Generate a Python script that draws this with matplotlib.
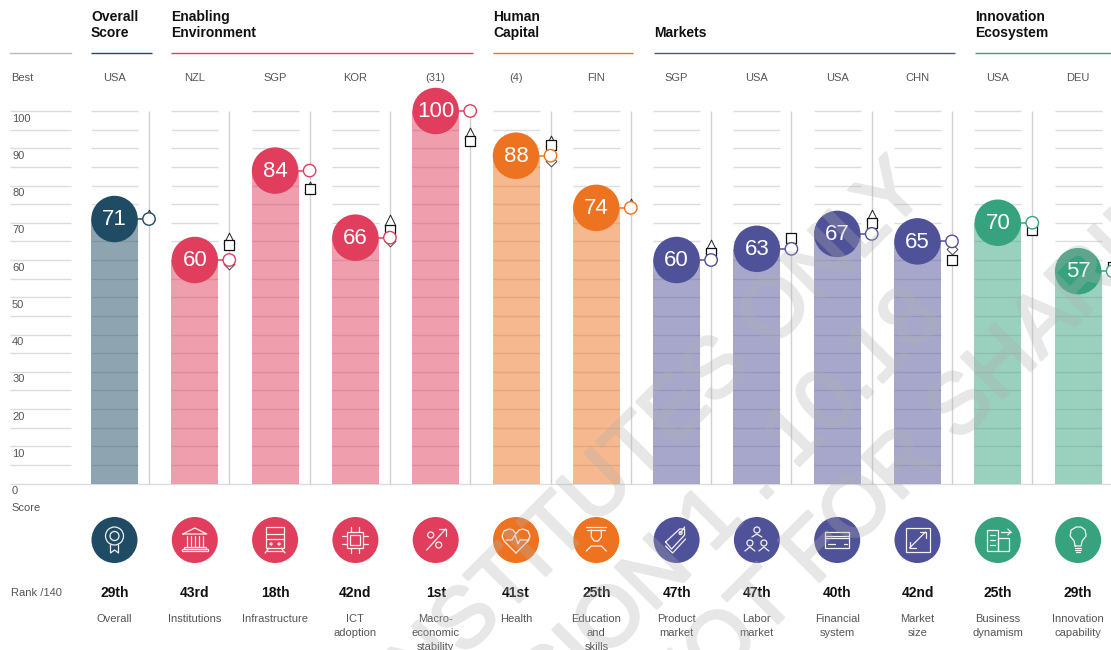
#!/usr/bin/python3
import numpy as np
import matplotlib
matplotlib.use('Agg')
import matplotlib.pyplot as plt
import matplotlib.patheffects as pe
from matplotlib.patches import Circle, Rectangle

plt.rcParams['font.family'] = ['Liberation Sans', 'DejaVu Sans']

#-#-#-#-#-#-#-#-#-#-#-#-#-#-#-#-#-#-#-#-#-#-#-#-#-#-#-#-#-#-#-#
# The data
pillars = ['Overall', 'Institutions', 'Infrastructure', 'ICT\nadoption',
           'Macro-\neconomic\nstability', 'Health', 'Education\nand\nskills',
           'Product\nmarket', 'Labor\nmarket', 'Financial\nsystem',
           'Market\nsize', 'Business\ndynamism', 'Innovation\ncapability']
best = ['USA', 'NZL', 'SGP', 'KOR', '(31)', '(4)', 'FIN', 'SGP', 'USA', 'USA',
        'CHN', 'USA', 'DEU']
ranks = ['29th', '43rd', '18th', '42nd', '1st', '41st', '25th', '47th', '47th',
         '40th', '42nd', '25th', '29th']
scores = [71, 60, 84, 66, 100, 88, 74, 60, 63, 67, 65, 70, 57]
squares = [np.nan, 64, 79, 68, 92, 91, np.nan, 62, 66, 70, 60, 68, 58]
triangles = [72, 66, 79.7, 70.7, 94, 92, 75, 64, np.nan, 72, np.nan, np.nan, np.nan]
diamonds = [np.nan, 59, np.nan, 65, np.nan, 86.5, np.nan, 62, np.nan, np.nan, 63, np.nan, np.nan]
groups = [0, 1, 1, 1, 1, 2, 2, 3, 3, 3, 3, 4, 4]

headers = ['Overall\nScore', 'Enabling\nEnvironment', 'Human\nCapital', 'Markets', 'Innovation\nEcosystem']
headerSpan = [(91, 152), (171, 473), (493, 633), (654, 955), (975, 1111)]
dark = ['#1f4b65', '#e03e5c', '#ee7320', '#4f5199', '#37a37e']
gridVals = np.arange(5, 101, 5)
tickVals = np.arange(0, 101, 10)

#-#-#-#-#-#-#-#-#-#-#-#-#-#-#-#-#-#-#-#-#-#-#-#-#-#-#-#-#-#-#-#
# Axes set up so the scale lands where the picture has it
W, H = 1111, 650
x0, dx = 114.5, 80.3
y0, dy = 483.5, 3.725
fig = plt.figure(figsize=(W/100, H/100), dpi=100)
ax = fig.add_axes([0, 0, 1, 1], zorder=1)
ax.set_xlim(-x0/dx, (W-x0)/dx)
ax.set_ylim((y0-H)/dy, y0/dy)
ax.axis('off')

ov = fig.add_axes([0, 0, 1, 1], zorder=2)
ov.set_xlim(0, W)
ov.set_ylim(H, 0)
ov.axis('off')
ov.patch.set_alpha(0)

xs = np.arange(len(scores))
colors = [dark[g] for g in groups]
half = 23.5/dx
side = 34.5/dx
textC = '#555555'
lineC = '#dcdcdc'

#-#-#-#-#-#-#-#-#-#-#-#-#-#-#-#-#-#-#-#-#-#-#-#-#-#-#-#-#-#-#-#
# Grid, bars and markers
leftA, leftB = (10-x0)/dx, (71-x0)/dx
ax.hlines(gridVals, leftA, leftB, color=lineC, lw=1, zorder=1)
ax.hlines(0, leftA, (W-x0)/dx, color=lineC, lw=1, zorder=1)
for i in xs:
    ax.hlines(gridVals, i-half, i+half, color=lineC, lw=1, zorder=1)
    ax.vlines(i+side, 0, 100, color='#d0d0d0', lw=1, zorder=1)
ax.bar(xs, scores, width=2*half, color=colors, alpha=0.5, lw=0, zorder=2)

ax.scatter(xs+side, diamonds, s=30, marker='D', facecolor='white', edgecolor='#444444', lw=0.7, zorder=4)
ax.scatter(xs+side, triangles, s=60, marker='^', facecolor='white', edgecolor='#222222', lw=0.7, zorder=5)
ax.scatter(xs+side, squares, s=48, marker='s', facecolor='white', edgecolor='#111111', lw=0.9, zorder=6)
ax.hlines(scores, xs, xs+side, color=colors, lw=1.1, zorder=3)
ax.scatter(xs+side, scores, s=80, marker='o', facecolor='white', edgecolor=colors, lw=1.0, zorder=7)
ax.scatter(xs, scores, s=1120, marker='o', color=colors, lw=0, zorder=8)
for i in xs:
    ax.text(i, scores[i]-0.2, str(scores[i]), color='white', fontsize=16, ha='center', va='center', zorder=9)

# Axis labels sit just under their grid line
for v in tickVals:
    ax.annotate(str(v), (leftA, v), xytext=(1.5, -5.5), textcoords='offset points',
                fontsize=8, color=textC, va='center', ha='left')

#-#-#-#-#-#-#-#-#-#-#-#-#-#-#-#-#-#-#-#-#-#-#-#-#-#-#-#-#-#-#-#
# Headers and the rows of text
for head, span, c in zip(headers, headerSpan, dark):
    ov.plot(span, [53, 53], color=c, lw=1, solid_capstyle='butt')
    yText = 33 if '\n' not in head else 25
    ov.text(span[0], yText, head, fontsize=10, fontweight='bold', color='#111111',
            va='center', ha='left', linespacing=1.15)
ov.plot([10, 71], [53, 53], color='#bbbbbb', lw=1)

ov.text(11, 78, 'Best', fontsize=8, color=textC, va='center')
ov.text(11, 508, 'Score', fontsize=8, color=textC, va='center')
ov.text(11, 593, 'Rank /140', fontsize=8, color=textC, va='center')

cxs = x0 + dx*xs
for i, cx in enumerate(cxs):
    ov.text(cx, 78, best[i], fontsize=8, color=textC, ha='center', va='center')
    ov.text(cx, 593, ranks[i], fontsize=10, fontweight='bold', color='#111111', ha='center', va='center')
    ov.text(cx, 614.5, pillars[i], fontsize=8, color=textC, ha='center', va='top', linespacing=1.5, clip_on=True)

#-#-#-#-#-#-#-#-#-#-#-#-#-#-#-#-#-#-#-#-#-#-#-#-#-#-#-#-#-#-#-#
# Icons, rough line drawings in white
cy = 540
ik = dict(color='#f6f0f0', lw=0.9, solid_capstyle='round', zorder=4)

def seg(cx, pts):
    pts = np.array(pts, dtype=float)
    ov.plot(cx+pts[:, 0], cy+pts[:, 1], **ik)

def ring(cx, x, y, r):
    ov.add_patch(Circle((cx+x, cy+y), r, fill=False, ec='#f6f0f0', lw=0.9, zorder=4))

def box(cx, x, y, w, h):
    ov.add_patch(Rectangle((cx+x, cy+y), w, h, fill=False, ec='#f6f0f0', lw=0.9, zorder=4))

def iconOverall(c):
    ring(c, 0, -4, 9); ring(c, 0, -4, 4.5)
    seg(c, [(-4, 5), (-4, 13), (0, 10), (4, 13), (4, 5)])

def iconInst(c):
    seg(c, [(-12, -6), (0, -12), (12, -6), (-12, -6)])
    for xx in [-8, -4, 0, 4, 8]:
        seg(c, [(xx, -4), (xx, 7)])
    box(c, -11, 7, 22, 2)
    box(c, -13, 9, 26, 2)

def iconTrain(c):
    box(c, -9, -13, 18, 21)
    seg(c, [(-9, -6), (9, -6)]); seg(c, [(-9, -1), (9, -1)])
    ring(c, -4, 4, 1); ring(c, 4, 4, 1)
    seg(c, [(-6, 8), (-10, 13)]); seg(c, [(6, 8), (10, 13)]); seg(c, [(-8, 11), (8, 11)])

def iconChip(c):
    box(c, -8, -8, 16, 16); box(c, -5, -5, 10, 10)
    for t in [-4, 4]:
        seg(c, [(t, -13), (t, -8)]); seg(c, [(t, 8), (t, 13)])
        seg(c, [(-13, t), (-8, t)]); seg(c, [(8, t), (13, t)])

def iconMacro(c):
    ring(c, -5, -5, 3); ring(c, 3, 5, 3)
    seg(c, [(-9, 10), (10, -11)]); seg(c, [(3, -11), (10, -11), (10, -4)])

def iconHealth(c):
    seg(c, [(0, 13), (-12, 1), (-14, -4), (-12, -9), (-7, -11), (-3, -10), (0, -6), (3, -10), (7, -11), (12, -9), (14, -4), (12, 1), (0, 13)])
    seg(c, [(-10, 0), (-4, 0), (-1, -5), (2, 4), (4, 0), (13, 0)])

def iconEdu(c):
    seg(c, [(-10, -13), (10, -13)]); seg(c, [(-9, -10), (9, -10)])
    seg(c, [(-5, -10), (-5, -3), (-2, 1), (2, 1), (5, -3), (5, -10)])
    seg(c, [(-10, 11), (-5, 6), (5, 6), (10, 11)])

def iconTag(c):
    seg(c, [(-11, 2), (3, -11), (8, -11), (8, -5), (-5, 9), (-11, 2)])
    seg(c, [(-11, 6), (-4, 13), (9, -1)])
    ring(c, 4, -7, 1.5)
    seg(c, [(4, -7), (8, -13)])

def iconPeople(c):
    ring(c, 0, -10, 3); ring(c, -7, 3, 3); ring(c, 7, 3, 3)
    seg(c, [(-5, -3), (0, -6), (5, -3)])
    seg(c, [(-12, 11), (-7, 7), (-2, 11)]); seg(c, [(2, 11), (7, 7), (12, 11)])

def iconCard(c):
    box(c, -12, -8, 24, 16)
    seg(c, [(-12, -4), (12, -4)]); seg(c, [(-12, -2), (12, -2)])
    seg(c, [(-9, 4), (-2, 4)]); seg(c, [(7, 4), (10, 4)])

def iconSize(c):
    box(c, -12, -12, 24, 24)
    seg(c, [(-8, 8), (8, -8)])
    seg(c, [(2, -8), (8, -8), (8, -2)]); seg(c, [(-8, 2), (-8, 8), (-2, 8)])

def iconBiz(c):
    box(c, -11, -10, 11, 21); box(c, 0, -2, 11, 13)
    seg(c, [(3, -8), (13, -8)]); seg(c, [(10, -11), (13, -8), (10, -5)])
    for yy in [-5, 0, 5]:
        seg(c, [(-8, yy), (-3, yy)])

def iconBulb(c):
    seg(c, [(-3, 6), (-4, 1), (-8, -4), (-7, -10), (-2, -13), (3, -13), (7, -10), (8, -4), (4, 1), (3, 6), (-3, 6)])
    seg(c, [(-3, 8), (3, 8)]); seg(c, [(-3, 10), (3, 10)]); seg(c, [(-2, 12), (2, 12)])

icons = [iconOverall, iconInst, iconTrain, iconChip, iconMacro, iconHealth, iconEdu,
         iconTag, iconPeople, iconCard, iconSize, iconBiz, iconBulb]
for i, cx in enumerate(cxs):
    ov.add_patch(Circle((cx, cy), 23, color=colors[i], lw=0, zorder=3))
    icons[i](cx)

#-#-#-#-#-#-#-#-#-#-#-#-#-#-#-#-#-#-#-#-#-#-#-#-#-#-#-#-#-#-#-#
# Watermark: thickened letters, faded as a whole so the stroke does not double up
def fade(img, dpi):
    img = img.copy()
    img[..., 3] = img[..., 3]*0.3
    return img, 0, 0

wmLines = ['FOR INSTITUTES ONLY', 'VERSION 1 . 10.18', 'NOT FOR SHARING']
wmEnds = [(929, 192), (945, 320), (1231, 170)]
for line, end in zip(wmLines, wmEnds):
    t = ov.text(end[0], end[1], line, fontsize=61, color='#b0b0b0', rotation=45, rotation_mode='anchor',
                ha='right', va='baseline', zorder=10, clip_on=True)
    t.set_path_effects([pe.withStroke(linewidth=2.2, foreground='#b0b0b0')])
    t.set_agg_filter(fade)

fig.savefig('out.png', dpi=100)
